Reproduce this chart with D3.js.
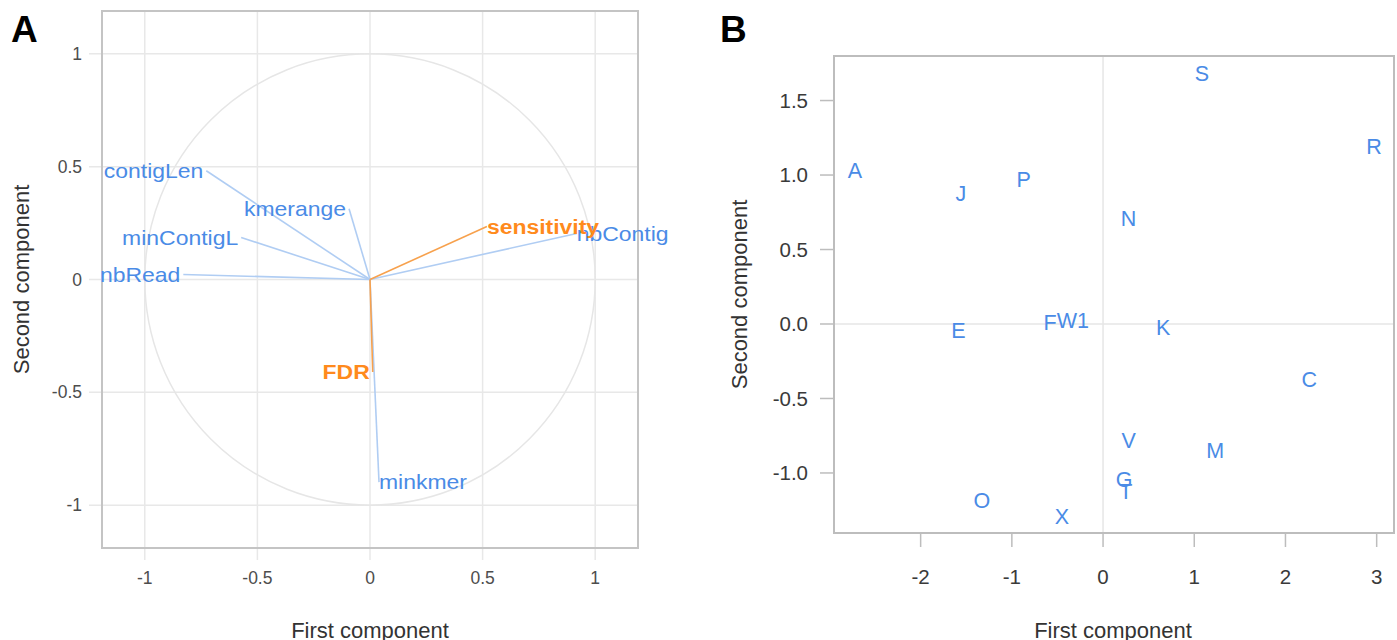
<!DOCTYPE html>
<html>
<head>
<meta charset="utf-8">
<script src="https://cdn.jsdelivr.net/npm/d3@7"></script>
<style>
body { margin: 0; background: #fff; }
text { font-family: "Liberation Sans", Arial, sans-serif; }
</style>
</head>
<body>
<script>
// variables (correlation circle)
const varNames = ["contigLen", "kmerange", "minContigL", "nbRead", "nbContig", "minkmer", "sensitivity", "FDR"];
const varPC1   = [-0.727, -0.093, -0.572, -0.829, 0.918, 0.040, 0.519, 0.012];
const varPC2   = [ 0.482,  0.314,  0.186,  0.022, 0.204, -0.898, 0.235, -0.410];
const supplementary = ["sensitivity", "FDR"];

// individuals
const sampleNames = ["A", "C", "E", "F", "G", "J", "K", "M", "N", "O", "P", "R", "S", "T", "V", "W1", "X"];
const samplePC1   = [-2.72, 2.26, -1.585, -0.58, 0.23, -1.56, 0.66, 1.23, 0.28, -1.33, -0.87, 2.97, 1.085, 0.25, 0.28, -0.33, -0.45];
const samplePC2   = [ 1.03, -0.37, -0.04, 0.01, -1.04, 0.88, -0.02, -0.845, 0.71, -1.18, 0.97, 1.195, 1.68, -1.12, -0.78, 0.027, -1.29];

const ticksA  = [-1, -0.5, 0, 0.5, 1];
const ticksBx = [-2, -1, 0, 1, 2, 3];
const ticksBy = [-1, -0.5, 0, 0.5, 1, 1.5];

const blue = "#4a8be6", blueLine = "#b0cdf3";
const orange = "#ff8a1c", orangeLine = "#f7a14d";

const svg = d3.select("body").append("svg")
    .attr("width", 1397)
    .attr("height", 640);

// ---------- panel A ----------
const xA = d3.scaleLinear().domain([-1.19, 1.19]).range([102, 638]);
const yA = d3.scaleLinear().domain([-1.19, 1.19]).range([548, 11]);
const gA = svg.append("g");

// grid lines, running out past the frame as ticks
gA.selectAll(".vgrid").data(ticksA).join("line")
    .attr("x1", d => xA(d)).attr("x2", d => xA(d))
    .attr("y1", yA.range()[1]).attr("y2", yA.range()[0] + 12)
    .attr("stroke", "#e8e8e8").attr("stroke-width", 1.5);
gA.selectAll(".hgrid").data(ticksA).join("line")
    .attr("y1", d => yA(d)).attr("y2", d => yA(d))
    .attr("x1", xA.range()[0] - 13).attr("x2", xA.range()[1])
    .attr("stroke", "#e8e8e8").attr("stroke-width", 1.5);

gA.append("rect")
    .attr("x", xA.range()[0]).attr("y", yA.range()[1])
    .attr("width", xA.range()[1] - xA.range()[0])
    .attr("height", yA.range()[0] - yA.range()[1])
    .attr("fill", "none").attr("stroke", "#c4c4c4").attr("stroke-width", 2);

// unit circle
gA.append("ellipse")
    .attr("cx", xA(0)).attr("cy", yA(0))
    .attr("rx", xA(1) - xA(0)).attr("ry", yA(0) - yA(1))
    .attr("fill", "none").attr("stroke", "#e6e6e6").attr("stroke-width", 1.5);

gA.selectAll(".xt").data(ticksA).join("text")
    .attr("x", d => xA(d)).attr("y", 584)
    .attr("text-anchor", "middle").attr("font-size", 17.5).attr("fill", "#4d4d4d")
    .text(d => String(d));
gA.selectAll(".yt").data(ticksA).join("text")
    .attr("x", 82).attr("y", d => yA(d)).attr("dy", "0.35em")
    .attr("text-anchor", "end").attr("font-size", 17.5).attr("fill", "#4d4d4d")
    .text(d => String(d));

const vars = varNames.map((n, i) => ({name: n, x: varPC1[i], y: varPC2[i], sup: supplementary.includes(n)}));
// active variables first, supplementary ones on top
vars.sort((a, b) => a.sup - b.sup);

gA.selectAll(".vec").data(vars).join("line")
    .attr("x1", xA(0)).attr("y1", yA(0))
    .attr("x2", d => xA(d.x)).attr("y2", d => yA(d.y))
    .attr("stroke", d => d.sup ? orangeLine : blueLine)
    .attr("stroke-width", 1.6);

gA.selectAll(".vlab").data(vars).join("text")
    .attr("transform", d => {
        const left = d.x < 0.03;
        return `translate(${xA(d.x) + (left ? -3 : 0)},${yA(d.y)}) scale(1.12,1)`;
    })
    .attr("dy", "0.35em")
    .attr("text-anchor", d => d.x < 0.03 ? "end" : "start")
    .attr("font-size", 20.5)
    .attr("font-weight", d => d.sup ? "bold" : "normal")
    .attr("fill", d => d.sup ? orange : blue)
    .text(d => d.name);

gA.append("text")
    .attr("x", xA(0)).attr("y", 638)
    .attr("text-anchor", "middle").attr("font-size", 22).attr("fill", "#333")
    .text("First component");
gA.append("text")
    .attr("transform", `translate(29,${yA(0)}) rotate(-90)`)
    .attr("text-anchor", "middle").attr("font-size", 22).attr("fill", "#333")
    .text("Second component");

svg.append("text")
    .attr("x", 11).attr("y", 42)
    .attr("font-size", 37).attr("font-weight", "bold").attr("fill", "#000")
    .text("A");

// ---------- panel B ----------
const xB = d3.scaleLinear().domain([-2.95, 3.19]).range([834, 1394]);
const yB = d3.scaleLinear().domain([-1.403, 1.799]).range([533, 56]);
const gB = svg.append("g");

gB.append("line")
    .attr("x1", xB(0)).attr("x2", xB(0))
    .attr("y1", yB.range()[1]).attr("y2", yB.range()[0])
    .attr("stroke", "#e6e6e6").attr("stroke-width", 1.5);
gB.append("line")
    .attr("y1", yB(0)).attr("y2", yB(0))
    .attr("x1", xB.range()[0]).attr("x2", xB.range()[1])
    .attr("stroke", "#e6e6e6").attr("stroke-width", 1.5);

gB.append("rect")
    .attr("x", xB.range()[0]).attr("y", yB.range()[1])
    .attr("width", xB.range()[1] - xB.range()[0])
    .attr("height", yB.range()[0] - yB.range()[1])
    .attr("fill", "none").attr("stroke", "#bdbdbd").attr("stroke-width", 2);

gB.selectAll(".xtick").data(ticksBx).join("line")
    .attr("x1", d => xB(d)).attr("x2", d => xB(d))
    .attr("y1", yB.range()[0]).attr("y2", yB.range()[0] + 14)
    .attr("stroke", "#bdbdbd").attr("stroke-width", 1.5);
gB.selectAll(".ytick").data(ticksBy).join("line")
    .attr("y1", d => yB(d)).attr("y2", d => yB(d))
    .attr("x1", xB.range()[0]).attr("x2", xB.range()[0] - 14)
    .attr("stroke", "#bdbdbd").attr("stroke-width", 1.5);

gB.selectAll(".xt").data(ticksBx).join("text")
    .attr("x", d => xB(d)).attr("y", 584)
    .attr("text-anchor", "middle").attr("font-size", 20.5).attr("fill", "#3a3a3a")
    .text(d => String(d));
gB.selectAll(".yt").data(ticksBy).join("text")
    .attr("x", 808).attr("y", d => yB(d)).attr("dy", "0.35em")
    .attr("text-anchor", "end").attr("font-size", 20.5).attr("fill", "#3a3a3a")
    .text(d => d.toFixed(1));

const samples = sampleNames.map((n, i) => ({name: n, x: samplePC1[i], y: samplePC2[i]}));
gB.selectAll(".pt").data(samples).join("text")
    .attr("x", d => xB(d.x)).attr("y", d => yB(d.y)).attr("dy", "0.36em")
    .attr("text-anchor", "middle").attr("font-size", 21.5).attr("fill", blue)
    .text(d => d.name);

gB.append("text")
    .attr("x", 1113).attr("y", 638)
    .attr("text-anchor", "middle").attr("font-size", 22).attr("fill", "#333")
    .text("First component");
gB.append("text")
    .attr("transform", `translate(747,${(yB.range()[0] + yB.range()[1]) / 2}) rotate(-90)`)
    .attr("text-anchor", "middle").attr("font-size", 22).attr("fill", "#333")
    .text("Second component");

svg.append("text")
    .attr("x", 720).attr("y", 42)
    .attr("font-size", 37).attr("font-weight", "bold").attr("fill", "#000")
    .text("B");
</script>
</body>
</html>
